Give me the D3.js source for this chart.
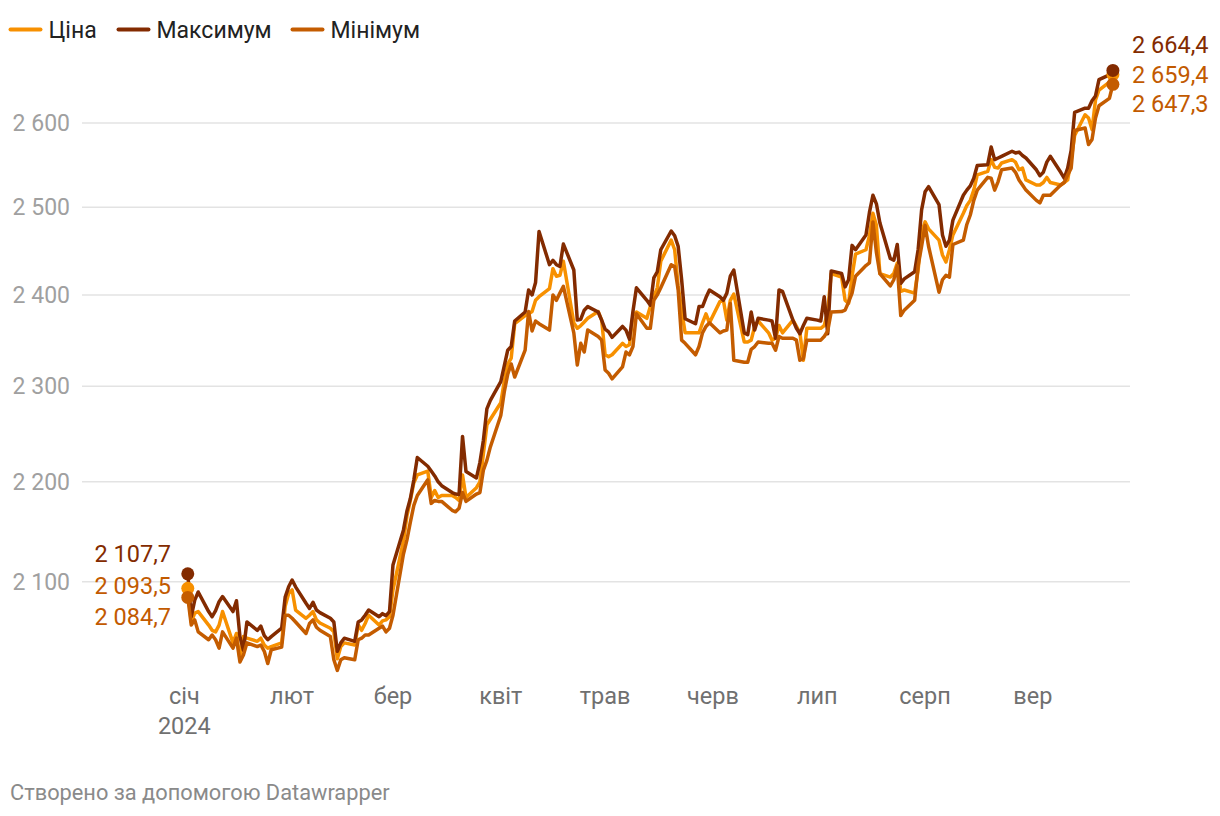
<!DOCTYPE html>
<html><head><meta charset="utf-8">
<script src="https://cdn.jsdelivr.net/npm/d3@7"></script>
<style>
body{margin:0;background:#fff;}
svg{font-family:Roboto,"Noto Sans",sans-serif;}
</style>
</head><body><svg id="c" width="1220" height="816"></svg>
<script>
const dates = [
"01-02","01-03","01-04","01-05","01-08","01-09","01-10","01-11","01-12","01-15","01-16","01-17","01-18","01-19","01-22","01-23","01-24","01-25","01-26","01-29","01-30","01-31",
"02-01","02-02","02-05","02-06","02-07","02-08","02-09","02-12","02-13","02-14","02-15","02-16","02-19","02-20","02-21","02-22","02-23","02-26","02-27","02-28","02-29",
"03-01","03-04","03-05","03-06","03-07","03-08","03-11","03-12","03-13","03-14","03-15","03-18","03-19","03-20","03-21","03-22","03-25","03-26","03-27","03-28","03-29",
"04-01","04-02","04-03","04-04","04-05","04-08","04-09","04-10","04-11","04-12","04-15","04-16","04-17","04-18","04-19","04-22","04-23","04-24","04-25","04-26","04-29","04-30",
"05-01","05-02","05-03","05-06","05-07","05-08","05-09","05-10","05-13","05-14","05-15","05-16","05-17","05-20","05-21","05-22","05-23","05-24","05-27","05-28","05-29","05-30","05-31",
"06-03","06-04","06-05","06-06","06-07","06-10","06-11","06-12","06-13","06-14","06-17","06-18","06-19","06-20","06-21","06-24","06-25","06-26","06-27","06-28",
"07-01","07-02","07-03","07-04","07-05","07-08","07-09","07-10","07-11","07-12","07-15","07-16","07-17","07-18","07-19","07-22","07-23","07-24","07-25","07-26","07-29","07-30","07-31",
"08-01","08-02","08-05","08-06","08-07","08-08","08-09","08-12","08-13","08-14","08-15","08-16","08-19","08-20","08-21","08-22","08-23","08-26","08-27","08-28","08-29","08-30",
"09-02","09-03","09-04","09-05","09-06","09-09","09-10","09-11","09-12","09-13","09-16","09-17","09-18","09-19","09-20","09-23","09-24"];

const maxValues = [
2107.7,2066,2082,2090,2071,2066,2072,2080.6,2085.5,2071,2081.5,2047,2034,2061,2053,2057,2048,2044,2047,2055,2085,2095,
2101.6,2095,2079,2074,2080,2072.5,2070,2064.5,2061,2033,2041,2045.5,2042.5,2061,2063,2067.5,2072.5,2066,2069,2067,2071,
2116.5,2151,2170,2183,2202,2225,2216,2211,2206,2200,2196,2189,2187.5,2187,2247,2210.5,2204,2220,2243,2276,2285,
2305,2322,2339,2343,2371,2381,2405.5,2400,2414,2472,2434,2439,2434,2432,2457.5,2428,2372,2373,2383,2387,2381,2372,
2362,2359,2353,2365,2361,2351,2381.5,2408,2394,2388.5,2419,2426,2451,2472.5,2467,2455,2417,2373.5,2368,2387,2387,2397,2405.5,
2398,2394,2402,2421,2428,2358,2356,2381,2361,2374,2372,2371,2352,2405.5,2404,2372,2363,2357,2366,2374,
2372,2371,2398,2357,2427,2424,2409,2417,2456,2451,2468,2494,2514,2504,2482,2441,2439,2457,2413,2418,2426,2451,2497,
2518,2524,2503,2468,2455,2462,2485,2514,2520,2525,2534,2549,2550,2571,2556,2558,2560,2566,2564,2565,2561,2558,
2544,2537,2541,2553,2560,2541,2534,2546,2567,2613,2618,2618,2627,2633,2653,2659,2664.4];

const priceValues = [
2093.5,2061,2069.5,2071,2058,2053,2051.5,2058,2071,2041,2050,2026,2047,2045.5,2042.5,2045.5,2039,2036,2037.5,2041,2076,2088.5,
2092,2072.5,2064.5,2067.5,2071,2063,2060,2055,2051.5,2026,2037.5,2041,2039,2058,2053,2059.5,2067.5,2058,2062,2063,2066,
2092,2140,2165,2181,2199,2207,2211,2184,2191,2184,2186,2186,2184,2181,2207,2184,2194,2200,2229,2259,2265,
2282.5,2305,2324,2330.5,2368,2377,2379,2381.5,2394,2398,2407,2429.5,2421,2422,2438,2369,2363,2366,2370,2374,2381.5,2372,
2334,2332,2334,2346.5,2343,2345,2377,2381,2374,2387,2398,2408,2438,2462,2451,2410,2383,2358,2358,2358,2369,2379,2369,
2392.5,2394,2372,2394,2401,2348,2348,2350,2365,2371,2358,2350,2352,2366,2358,2372,2365,2358,2328,2363,
2363,2363,2366,2381,2424,2420,2394,2390.5,2421,2446,2451,2467,2493,2479,2424,2420,2424,2436,2404,2405.5,2402,2428,2471,
2483,2475,2462,2445,2437,2451,2468,2493,2502,2508,2520,2538,2542,2556,2547,2546,2552,2556,2553,2544,2546,2532,
2526,2526,2529,2535,2529,2526,2529,2532,2556,2585,2610,2606,2592,2628,2640,2650,2659.4];

const minValues = [
2084.7,2058,2063,2051.5,2044,2048.5,2044,2036,2051.5,2036,2045.5,2023,2029.5,2041,2037.5,2039,2033,2021.5,2034.5,2037,2067.5,2067.5,
2064.5,2061,2050,2059.5,2063,2056,2053,2047,2025,2015,2025,2027,2025,2044,2045.5,2048.5,2048.5,2055,2057,2051.5,2055,
2067.5,2127,2141,2159,2176,2186,2202,2178,2181,2180,2180,2171,2169.5,2173,2189,2180,2187.5,2189,2212,2222,2236,
2269,2294,2313,2324,2310,2339,2381.5,2360,2371,2368,2361,2400,2394,2402,2409.5,2358,2323,2346.5,2337,2361,2354,2350,
2317.5,2314,2308,2321,2337,2334,2343,2379,2363,2363,2394,2400,2408,2434,2432,2405.5,2350,2346.5,2334,2343,2358,2365,2369,
2358,2360,2361,2390.5,2328,2326,2326,2340,2343,2348,2346.5,2346.5,2339,2354,2352,2352,2350,2328,2330,2350,
2350,2350,2354,2360,2381,2381.5,2383,2392,2402,2421,2433,2436,2483,2448,2424,2410,2417,2433,2377,2383,2394,2433,2455,
2479,2455,2403,2417,2422,2420,2457,2462,2480,2491,2508,2520,2535,2534,2520,2530,2544,2546,2541,2532,2526,2520,
2508,2505,2514,2514,2514,2526,2529,2538,2546,2591,2594,2574,2580,2606,2621,2630,2647.3];

const seriesNames = ["Ціна","Максимум","Мінімум"];
const yTicks = [2100,2200,2300,2400,2500,2600];
const monthLabels = ["січ","лют","бер","квіт","трав","черв","лип","серп","вер"];
const yearLabel = "2024";
const footerText = "Створено за допомогою Datawrapper";

const colors = {"Ціна":"#f79000","Максимум":"#832b00","Мінімум":"#c45c00"};
const labelColors = {"Ціна":"#c25a00","Максимум":"#832b00","Мінімум":"#c25a00"};

const parse = d3.utcParse("%Y-%m-%d");
const dts = dates.map(d => parse("2024-" + d));
const series = [
  {name:"Ціна", values: priceValues},
  {name:"Максимум", values: maxValues},
  {name:"Мінімум", values: minValues}
];

const loc = d3.formatLocale({decimal:",", thousands:"\u00a0", grouping:[3], currency:["",""]});
const fInt = loc.format(",d");
const fDec = loc.format(",.1f");

const svg = d3.select("#c");
const x = d3.scaleUtc().domain([parse("2024-01-01"), parse("2024-09-01")]).range([184.3, 1032.9]);
const y = d3.scaleLog().domain([2100, 2600]).range([581.7, 123]);

const FS = "23.5px";

// grid
const grid = svg.append("g");
grid.selectAll("line").data(yTicks).join("line")
  .attr("x1", 82).attr("x2", 1130)
  .attr("y1", d => y(d)).attr("y2", d => y(d))
  .attr("stroke", "#e3e3e3").attr("stroke-width", 1.5);
grid.selectAll("text").data(yTicks).join("text")
  .attr("x", 70).attr("y", d => y(d)).attr("dy", "0.35em")
  .attr("text-anchor", "end").attr("fill", "#a0a0a0")
  .style("font-size", "23px").text(d => fInt(d));

// x labels
const months = d3.utcMonth.range(parse("2024-01-01"), parse("2024-09-02"));
const xl = svg.append("g");
xl.selectAll("text").data(months).join("text")
  .attr("x", d => x(d)).attr("y", 704)
  .attr("text-anchor", "middle").attr("fill", "#707070")
  .style("font-size", FS).text((d, i) => monthLabels[i]);
xl.append("text").attr("x", x(months[0])).attr("y", 734)
  .attr("text-anchor", "middle").attr("fill", "#707070")
  .style("font-size", FS).text(yearLabel);

// lines
const line = d3.line().x((d, i) => x(dts[i])).y(d => y(d)).curve(d3.curveLinear);
const g = svg.append("g");
series.forEach(s => {
  g.append("path").attr("d", line(s.values))
    .attr("fill", "none").attr("stroke", colors[s.name])
    .attr("stroke-width", 3.5).attr("stroke-linejoin", "round").attr("stroke-linecap", "round");
});
// dots
const n = dts.length - 1;
series.forEach(s => {
  [0, n].forEach(i => {
    g.append("circle").attr("cx", x(dts[i])).attr("cy", y(s.values[i]))
      .attr("r", 6.5).attr("fill", colors[s.name]);
  });
});

// end labels
const order = [1, 0, 2]; // max, price, min
const leftBase = [562, 594, 625];
const rightBase = [52.5, 83, 112];
order.forEach((si, k) => {
  const s = series[si];
  svg.append("text").attr("x", 171).attr("y", leftBase[k]).attr("text-anchor", "end")
    .attr("fill", labelColors[s.name]).style("font-size", FS).text(fDec(s.values[0]));
  svg.append("text").attr("x", 1132).attr("y", rightBase[k]).attr("text-anchor", "start")
    .attr("fill", labelColors[s.name]).style("font-size", FS).text(fDec(s.values[n]));
});

// legend
const legX = [10.5, 118.5, 292.5];
const lg = svg.append("g");
seriesNames.forEach((nm, i) => {
  lg.append("line").attr("x1", legX[i]).attr("x2", legX[i] + 30).attr("y1", 29.5).attr("y2", 29.5)
    .attr("stroke", colors[nm]).attr("stroke-width", 4).attr("stroke-linecap", "round");
  lg.append("text").attr("x", legX[i] + 38).attr("y", 37.5).attr("fill", "#222")
    .style("font-size", "23px").text(nm);
});

svg.append("text").attr("x", 10).attr("y", 800).attr("fill", "#8a8a8a")
  .style("font-size", "21.8px").text(footerText);
</script></body></html>
